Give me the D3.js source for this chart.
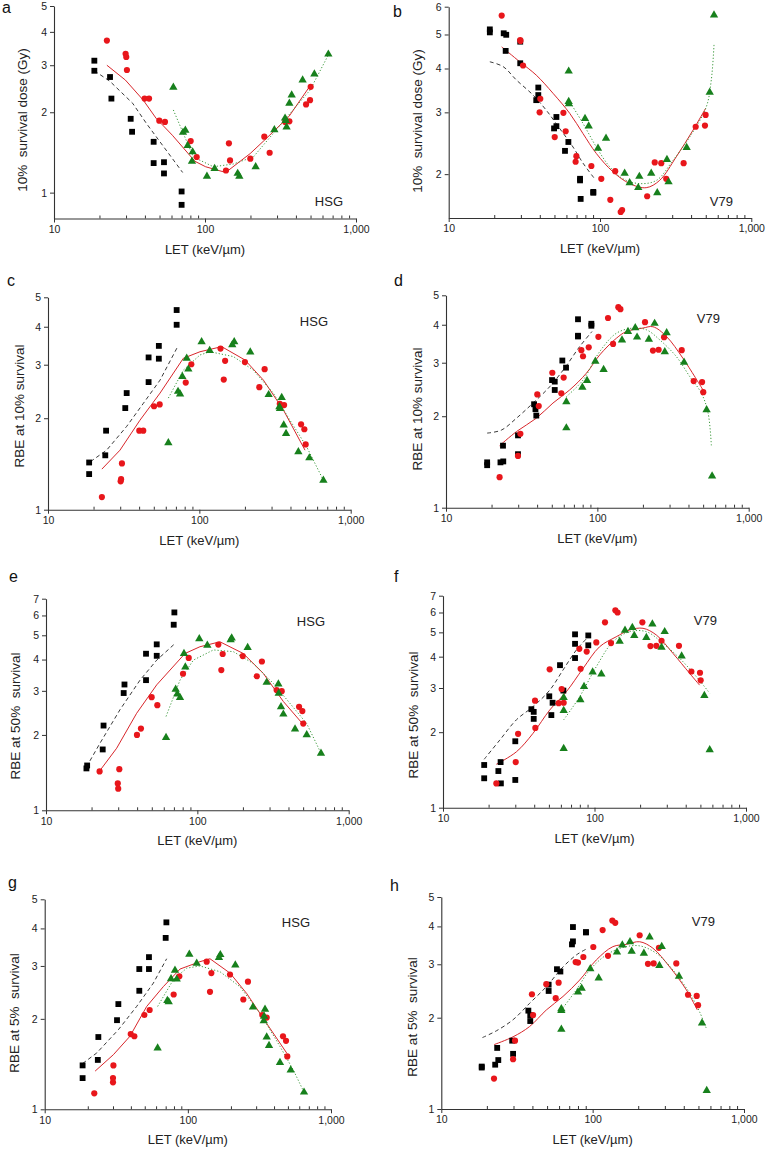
<!DOCTYPE html>
<html>
<head>
<meta charset="utf-8">
<script src="https://cdn.jsdelivr.net/npm/d3@7"></script>
<style>
  body { margin: 0; background: #fff; }
  svg { display: block; font-family: "Liberation Sans", Arial, sans-serif; }
  svg text { white-space: pre; }
  .tick text { font-size: 10.5px; fill: #222; }
  .domain, .tick line { stroke: #333; }
</style>
</head>
<body>
<div id="chart"></div>
<script>
// LET (keV/um) vs value pairs
const aBlack = [[18.5,3.12],[18.5,2.86],[23.5,2.71],[24,2.25],[32.2,1.89],[32.9,1.69],[45.7,1.55],[45.7,1.29],[53.5,1.30],[53.5,1.18],[70,1.01],[70,0.90]]
const aRed = [[22.4,3.71],[29.8,3.31],[30.1,3.22],[30.4,2.88],[39.8,2.25],[42.6,2.25],[49.8,1.86],[54.3,1.84],[80.4,1.56],[88.1,1.36],[137.7,1.21],[144,1.53],[146.5,1.32],[199.6,1.34],[247,1.62],[268,1.41],[340,1.84],[362,1.85],[467,2.14],[496,2.22],[501,2.49]]
const aGreen = [[61.7,2.48],[71.5,1.68],[74.1,1.71],[76.8,1.50],[82.8,1.42],[82,1.31],[103,1.15],[115.8,1.23],[164.6,1.18],[168.8,1.15],[216.5,1.25],[288,1.72],[339,1.90],[342,1.86],[347,1.76],[362,2.16],[375,2.32],[443,2.64],[530,2.78],[656,3.30]]
const aBlackFit = [[18.5,2.86],[23.5,2.61],[33.2,2.16],[41.1,1.81],[53,1.49],[71.1,1.19]]
const aRedFit = [[22.4,3.00],[29.7,2.64],[39,2.22],[47.4,1.90],[60.8,1.64],[85.8,1.31],[101,1.25],[137,1.19],[199,1.40],[256,1.60],[360,1.93],[496,2.51]]
const aGreenFit = [[61.7,2.04],[83.7,1.36],[113.6,1.25],[154,1.28],[209,1.36],[284,1.67],[366,1.98],[496,2.42],[656,3.28]]

const bBlack = [[18.7,5.17],[18.7,5.07],[23.1,5.04],[24,4.99],[23.8,4.49],[29.7,4.14],[29.7,4.77],[39.1,3.53],[39.1,3.36],[37.9,3.25],[51.5,2.91],[51.5,2.74],[49.7,2.70],[58.7,2.33],[61.8,2.47],[73.8,1.92],[73.8,1.94],[90.3,1.78],[90.3,1.77],[74.5,1.70]]
const bRed = [[22.4,5.66],[29.7,4.82],[29.8,4.79],[31,4.08],[40.3,3.28],[39.9,3.00],[50.2,2.55],[57.3,2.99],[59.3,2.65],[69,2.17],[69.8,2.25],[87.7,2.11],[102,1.94],[126,2.04],[117,1.69],[137,1.56],[140,1.58],[205,1.73],[230,2.16],[254,2.15],[274,1.94],[357,2.15],[429,2.73],[494,2.75],[499,2.95]]
const bGreen = [[62.1,3.93],[62.1,3.22],[62.3,3.17],[79.6,2.88],[84.2,2.74],[97,2.37],[109.6,2.53],[145.5,2.01],[157,1.89],[182,1.97],[179,1.83],[218,2.01],[239,1.77],[277,2.20],[284,1.90],[374,2.38],[531,3.42],[567,5.68]]
const bBlackFit = [[18.7,4.18],[22.9,4.05],[28,3.71],[36.1,3.36],[44.2,3.04],[54.1,2.70],[66.3,2.39],[77.2,2.15],[92.2,1.94]]
const bRedFit = [[22.4,4.61],[29.5,4.18],[37.9,3.83],[48.9,3.40],[63.1,2.98],[77.2,2.61],[94.6,2.29],[122,2.03],[157,1.88],[202,1.83],[248,1.92],[319,2.24],[412,2.67],[499,3.08]]
const bGreenFit = [[62.1,3.25],[77.2,2.79],[94.6,2.39],[115.8,2.10],[142,1.94],[183,1.88],[236,1.92],[304,2.19],[391,2.55],[504,3.11],[544,3.71],[567,4.67]]

const cBlack = [[18.7,1.31],[18.7,1.43],[23.9,1.51],[24.2,1.82],[32.4,2.16],[33.1,2.42],[46.2,2.63],[46.2,3.17],[54,3.14],[54,3.46],[70.8,4.06],[70.8,4.54]]
const cRed = [[22.7,1.10],[30.2,1.24],[30.4,1.26],[30.8,1.42],[40.1,1.82],[42.6,1.82],[50.2,2.19],[54.7,2.22],[81.3,2.62],[88.5,3.01],[138,3.39],[148,3.09],[145,2.68],[200,3.06],[249,2.53],[270,2.90],[340,2.23],[363,2.21],[470,1.91],[494,1.84],[504,1.64]]
const cGreen = [[62.4,1.66],[72.3,2.45],[74.6,2.40],[77.2,2.74],[82.5,3.15],[84.6,2.90],[103.5,3.57],[117,3.34],[165,3.49],[170,3.57],[217,3.30],[287,2.39],[338,2.18],[341,2.15],[350,2.34],[361,1.90],[374,1.78],[451,1.55],[533,1.48],[660,1.25]]
const cBlackFit = [[19.1,1.44],[24.4,1.57],[33.1,1.88],[42.7,2.24],[55,2.67],[71.9,3.44]]
const cRedFit = [[22.7,1.36],[29.9,1.57],[40.5,1.97],[55,2.42],[78.4,3.15],[101,3.31],[140.5,3.44],[200,3.11],[265,2.67],[359,2.13],[499,1.57]]
const cGreenFit = [[62.4,2.33],[78.4,2.88],[101,3.23],[117.6,3.31],[168,3.19],[227,2.88],[308,2.42],[397,1.97],[512,1.61],[660,1.25]]

const dBlack = [[18.7,1.41],[18.7,1.38],[22.9,1.41],[23.9,1.42],[23.8,1.60],[29.9,1.73],[29.9,1.50],[38.2,2.19],[39,2.11],[39.5,2.01],[50.2,2.63],[52.3,2.44],[52.3,2.60],[58.7,3.05],[62.1,2.89],[74.5,4.17],[74.5,3.68],[74.5,3.66],[91.3,4.03],[91.3,3.97]]
const dRed = [[22.6,1.26],[29.9,1.48],[31,1.75],[40.1,2.36],[41,2.16],[50.4,2.78],[57.8,2.38],[59.9,2.68],[78.4,3.30],[80.4,3.15],[87.7,3.37],[101.6,3.65],[117.6,4.21],[127,3.46],[137.6,4.57],[142,4.50],[206.5,4.08],[233,3.29],[254,3.31],[276,3.64],[361,3.30],[433,2.61],[492,2.59],[501,2.40]]
const dGreen = [[62.4,2.23],[62.4,1.83],[79.6,2.49],[85.5,2.62],[97,3.03],[110,2.85],[145.5,3.56],[159.4,3.80],[178,3.91],[183,3.64],[219,3.58],[239,4.04],[279,3.26],[287,3.76],[374,3.01],[527,2.10],[573,1.27]]
const dBlackFit = [[18.7,1.76],[23.2,1.80],[29.2,1.97],[37.6,2.21],[48.4,2.50],[60.8,2.88],[76.4,3.39],[92.2,3.80]]
const dRedFit = [[22.6,1.60],[29.2,1.78],[39.5,1.97],[50.9,2.21],[65.6,2.44],[84.6,2.77],[103.5,3.18],[133.5,3.61],[155.5,3.80],[200,3.90],[233,3.94],[286,3.66],[368,3.10],[499,2.44]]
const dGreenFit = [[62.4,2.32],[80.4,2.63],[103.5,3.26],[133.5,3.75],[172,3.90],[211,3.85],[258,3.57],[333,3.14],[408,2.70],[487,2.38],[539,2.05],[567,1.59]]

const eBlack = [[18.5,1.47],[18.7,1.51],[23.7,1.75],[24,2.18],[32.6,2.94],[33,3.18],[45.8,3.31],[45.8,4.22],[53.9,4.14],[53.9,4.60],[69.8,5.51],[70.5,6.17]]
const eRed = [[22.6,1.43],[29.8,1.28],[30,1.22],[30.5,1.46],[39.9,2.00],[42.4,2.12],[49.9,2.83],[54.4,2.63],[80.4,3.51],[87.7,4.06],[137.6,4.59],[147,4.21],[144,3.63],[199.5,4.13],[247,3.43],[267,3.93],[334,3.02],[361,2.99],[470,2.59],[494,2.49],[501,2.22]]
const eGreen = [[62.1,1.95],[71.9,3.04],[73.8,2.91],[76.8,2.82],[81.6,4.23],[83.3,3.73],[103,4.84],[116.4,4.56],[166,4.79],[168.6,4.87],[215,4.47],[287,3.24],[343,3.19],[345,2.93],[357,2.59],[370,2.42],[442,2.11],[528,2.00],[656,1.69]]
const eBlackFit = [[18.5,1.49],[22.7,1.85],[30.8,2.52],[41.8,3.31],[53.9,3.98],[70.5,4.61]]
const eRedFit = [[22.5,1.43],[29.3,1.77],[39.7,2.44],[53.9,3.17],[82.9,4.23],[104,4.50],[141,4.71],[201,4.23],[273,3.52],[370,2.72],[501,2.20]]
const eGreenFit = [[62.1,2.37],[76.8,3.31],[94.1,3.98],[127.6,4.37],[173,4.30],[234,3.86],[318,3.21],[410,2.67],[528,2.22],[656,1.69]]

const fBlack = [[18.7,1.48],[18.7,1.31],[23.2,1.40],[24,1.52],[24.1,1.25],[30,1.84],[30,1.29],[38.3,2.47],[39.7,2.41],[39.7,2.26],[50.3,2.78],[51.9,2.34],[52.9,2.62],[59.2,3.70],[62.3,2.93],[74.4,4.91],[74.4,4.50],[74.4,3.95],[91,4.86],[91,4.44]]
const fRed = [[22.5,1.25],[30.2,1.52],[31.3,1.97],[40.5,2.67],[40.7,2.08],[50.6,3.56],[58,2.61],[60.7,2.97],[62.6,2.62],[79.4,4.30],[81,3.58],[88.8,4.19],[102.8,4.56],[117.3,5.48],[128.5,4.53],[137.3,6.12],[142,6.00],[207,5.48],[234,4.41],[256,4.42],[277,4.63],[361,4.42],[436,3.49],[497,3.45],[502,3.22]]
const fGreen = [[62.6,2.75],[62.6,2.44],[62.6,1.72],[80.7,2.69],[85.3,3.04],[97.2,3.47],[111,3.41],[146.6,4.60],[159,5.09],[177.7,5.22],[183,4.85],[220,4.77],[241,5.40],[277,4.36],[290.5,5.03],[376,4.02],[531,2.80],[576,1.70]]
const fBlackFit = [[18.7,1.56],[23.7,1.86],[30.5,2.24],[39.3,2.53],[50.6,2.94],[62,3.54],[75.9,4.25],[91,4.80]]
const fRedFit = [[22.5,1.49],[30.5,1.67],[39.3,1.98],[50.6,2.45],[65.2,2.90],[84,3.59],[108,4.38],[139,4.80],[170.6,5.11],[209,5.19],[256,4.88],[330,4.12],[425,3.43],[494,3.08]]
const fGreenFit = [[62.6,2.24],[79.8,2.77],[102.8,3.65],[132.5,4.59],[170.6,5.03],[220,5.03],[283,4.52],[365,3.94],[470,3.33],[576,2.86]]

const gBlack = [[18.4,1.27],[18.4,1.40],[23.5,1.46],[23.7,1.74],[32,1.98],[32.7,2.24],[45.8,2.48],[45.8,2.93],[53.5,2.93],[53.5,3.21],[70,3.72],[70.8,4.19]]
const gRed = [[22.2,1.13],[30,1.23],[30,1.27],[30.2,1.40],[39.9,1.78],[42.3,1.75],[49.7,2.06],[54.1,2.14],[79.6,2.41],[87.2,2.77],[135.4,3.10],[146,2.84],[142.8,2.46],[197,2.81],[244,2.32],[263,2.66],[331,2.06],[355.5,2.02],[462,1.75],[485,1.69],[495,1.50]]
const gGreen = [[61.5,1.60],[71.9,2.30],[73.5,2.28],[76.3,2.72],[81.3,2.90],[83.6,2.71],[102.4,3.28],[115.3,3.06],[165,3.20],[168.6,3.27],[214.6,3.02],[285,2.19],[339,1.97],[346,2.15],[341,2.04],[355.5,1.74],[369,1.63],[440,1.43],[523,1.35],[648,1.14]]
const gBlackFit = [[18.4,1.42],[23.1,1.54],[32.7,1.84],[43.9,2.20],[57.4,2.63],[71.1,3.17]]
const gRedFit = [[22.5,1.34],[30.2,1.52],[39.4,1.75],[51.6,2.20],[67.4,2.56],[88.2,2.93],[121.6,3.10],[142.8,3.17],[197,2.84],[257.5,2.43],[355.5,1.93],[490,1.54]]
const gGreenFit = [[61.5,2.20],[79.2,2.70],[98.2,2.95],[121.6,3.00],[167.7,2.87],[231,2.56],[319,2.09],[440,1.62],[546,1.35],[648,1.14]]

const hBlack = [[18.5,1.38],[18.5,1.37],[22.7,1.40],[23.4,1.59],[23.8,1.45],[29.4,1.68],[29.8,1.52],[37.6,2.11],[38.7,1.95],[38.7,2.04],[51.2,2.57],[51.2,2.45],[58.1,2.89],[61.2,2.84],[73,3.49],[74.1,3.57],[74.1,3.98],[90.3,3.83],[90.3,3.82]]
const hRed = [[22.3,1.26],[29.8,1.46],[30.7,1.68],[39.7,2.39],[40.4,2.04],[49.4,2.58],[57,2.32],[59.6,2.61],[77.2,3.05],[80,3.04],[86.8,3.17],[101,3.42],[116.4,3.89],[126.3,3.20],[134.9,4.18],[141,4.11],[204.5,3.74],[232,3.01],[253,3.02],[274,3.40],[357,3.02],[426.6,2.38],[487,2.36],[497,2.20]]
const hGreen = [[62.1,2.14],[62.1,2.11],[62.1,1.83],[80,2.43],[84.6,2.50],[96.5,2.90],[109.6,2.70],[144.8,3.29],[157,3.47],[176.5,3.56],[181,3.31],[218,3.26],[238,3.69],[276,2.97],[286,3.43],[372,2.74],[528,1.92],[567,1.15]]
const hBlackFit = [[18.7,1.72],[23.1,1.81],[29.8,1.97],[38.3,2.23],[49.4,2.53],[63.7,2.94],[78,3.22],[90,3.36]]
const hRedFit = [[22.3,1.63],[29.8,1.73],[38.3,1.87],[49.4,2.12],[63.7,2.35],[82,2.66],[105.7,3.10],[136,3.43],[167,3.49],[204.5,3.56],[250,3.39],[323,2.94],[416,2.47],[492,2.12]]
const hGreenFit = [[62.1,2.12],[78,2.47],[95.5,2.87],[123,3.22],[158.6,3.41],[204.5,3.45],[263.5,3.26],[340,2.87],[437.5,2.41],[509,2.09],[567,1.83]]

const xMajor = [10, 100, 1000]
const xMinor = [20,30,40,50,60,70,80,90,200,300,400,500,600,700,800,900]
const xTitle = 'LET (keV/\u00b5m)'

const cellLines = ['HSG', 'V79']
const yTitles = ['10%  survival dose (Gy)', 'RBE at 10% survival', 'RBE at 50%  survival', 'RBE at 5%  survival']
const yTicks5 = [1, 2, 3, 4, 5]
const yTicks7 = [1, 2, 3, 4, 5, 6, 7]
const yTicksB = [2, 3, 4, 5, 6]

const RED = '#e8161b', GREEN = '#17801c', BLACK = '#000'

// layout of each panel (pixel frame) and its data
const panels = [
  {id:'a', cell:0, title:0, ydom:[0.8,5], ticks:yTicks5, x0:54, x1:356, yTop:6, yBot:218.5,
   letter:[2,13], cellPos:[343,206], ytX:27, ytY:120, smooth:false,
   pts:[aBlack,aRed,aGreen], fits:[aBlackFit,aRedFit,aGreenFit]},
  {id:'b', cell:1, title:0, ydom:[1.5,6], ticks:yTicksB, x0:448.7, x1:751.3, yTop:6.7, yBot:218,
   letter:[393,17], cellPos:[733,206], ytX:422, ytY:121, smooth:true,
   pts:[bBlack,bRed,bGreen], fits:[bBlackFit,bRedFit,bGreenFit]},
  {id:'c', cell:0, title:1, ydom:[1,5], ticks:yTicks5, x0:48, x1:350.7, yTop:297.3, yBot:509.7,
   letter:[7,286], cellPos:[328,326], ytX:24, ytY:406, smooth:false,
   pts:[cBlack,cRed,cGreen], fits:[cBlackFit,cRedFit,cGreenFit]},
  {id:'d', cell:1, title:1, ydom:[1,5], ticks:yTicks5, x0:446, x1:748.7, yTop:295.3, yBot:507.7,
   letter:[394,286], cellPos:[720,323], ytX:422, ytY:409, smooth:true,
   pts:[dBlack,dRed,dGreen], fits:[dBlackFit,dRedFit,dGreenFit]},
  {id:'e', cell:0, title:2, ydom:[1,7], ticks:yTicks7, x0:46, x1:348.7, yTop:598.7, yBot:810.3,
   letter:[9,582], cellPos:[325,626], ytX:20, ytY:716, smooth:false,
   pts:[eBlack,eRed,eGreen], fits:[eBlackFit,eRedFit,eGreenFit]},
  {id:'f', cell:1, title:2, ydom:[1,7], ticks:yTicks7, x0:443, x1:746, yTop:595.7, yBot:807.7,
   letter:[394,582], cellPos:[717,625], ytX:418, ytY:715, smooth:true,
   pts:[fBlack,fRed,fGreen], fits:[fBlackFit,fRedFit,fGreenFit]},
  {id:'g', cell:0, title:3, ydom:[1,5], ticks:yTicks5, x0:44.7, x1:331, yTop:899.3, yBot:1109.3,
   letter:[8,888], cellPos:[310,927], ytX:19, ytY:1013, smooth:false,
   pts:[gBlack,gRed,gGreen], fits:[gBlackFit,gRedFit,gGreenFit]},
  {id:'h', cell:1, title:3, ydom:[1,5], ticks:yTicks5, x0:441.3, x1:744, yTop:897, yBot:1109,
   letter:[390,891], cellPos:[715,926], ytX:417, ytY:1017, smooth:true,
   pts:[hBlack,hRed,hGreen], fits:[hBlackFit,hRedFit,hGreenFit]}
]

const svg = d3.select('#chart').append('svg')
  .attr('width', 766).attr('height', 1150)

const fmt = d3.format(',')

panels.forEach(function(p){
  const x = d3.scaleLog().domain([10, 1000]).range([p.x0, p.x1])
  const y = d3.scaleLog().domain(p.ydom).range([p.yBot, p.yTop])
  const g = svg.append('g').attr('class', 'panel-' + p.id)

  // x axis: major ticks outward, minor ticks inward
  g.append('g').attr('transform', 'translate(0,' + p.yBot + ')')
    .call(d3.axisBottom(x).tickValues(xMajor).tickFormat(fmt).tickSize(4).tickSizeOuter(0).tickPadding(3))
  g.append('g').attr('transform', 'translate(0,' + p.yBot + ')')
    .call(d3.axisBottom(x).tickValues(xMinor).tickFormat('').tickSize(-3).tickSizeOuter(0))
    .select('.domain').remove()

  g.append('g').attr('transform', 'translate(' + p.x0 + ',0)')
    .call(d3.axisLeft(y).tickValues(p.ticks).tickFormat(d3.format('d')).tickSize(4).tickSizeOuter(0).tickPadding(3))

  g.selectAll('.domain').attr('stroke-width', 1.1)

  // titles
  g.append('text').attr('x', (p.x0 + p.x1) / 2).attr('y', p.yBot + 35)
    .attr('text-anchor', 'middle').attr('font-size', 13).attr('fill', '#222').text(xTitle)
  g.append('text')
    .attr('transform', 'translate(' + p.ytX + ',' + p.ytY + ') rotate(-90)')
    .attr('text-anchor', 'middle').attr('font-size', 13.5).attr('fill', '#222')
    .text(yTitles[p.title])
  g.append('text').attr('x', p.cellPos[0]).attr('y', p.cellPos[1])
    .attr('text-anchor', 'end').attr('font-size', 13).attr('fill', '#222')
    .text(cellLines[p.cell])
  g.append('text').attr('x', p.letter[0]).attr('y', p.letter[1])
    .attr('font-size', 16).attr('fill', '#111').text(p.id)

  // fitted curves
  const line = d3.line()
    .x(function(d){ return x(d[0]) })
    .y(function(d){ return y(d[1]) })
    .curve(p.smooth ? d3.curveCatmullRom.alpha(0.5) : d3.curveLinear)

  const fitStyle = [
    {c: '#222', w: 0.9, dash: '4,3'},
    {c: '#d8262b', w: 1, dash: null},
    {c: '#3d9a3d', w: 1, dash: '1.2,2'}
  ]
  p.fits.forEach(function(f, i){
    g.append('path').datum(f)
      .attr('d', line)
      .attr('fill', 'none')
      .attr('stroke', fitStyle[i].c)
      .attr('stroke-width', fitStyle[i].w)
      .attr('stroke-dasharray', fitStyle[i].dash)
  })

  // data points
  const shapes = [
    {t: d3.symbolSquare, s: 34, c: BLACK},
    {t: d3.symbolCircle, s: 30, c: RED},
    {t: d3.symbolTriangle, s: 30, c: GREEN}
  ]
  p.pts.forEach(function(series, i){
    g.selectAll('.pt' + i).data(series).enter().append('path')
      .attr('class', 'pt' + i)
      .attr('transform', function(d){ return 'translate(' + x(d[0]) + ',' + y(d[1]) + ')' })
      .attr('d', d3.symbol().type(shapes[i].t).size(shapes[i].s))
      .attr('fill', shapes[i].c)
  })
})
</script>
</body>
</html>
